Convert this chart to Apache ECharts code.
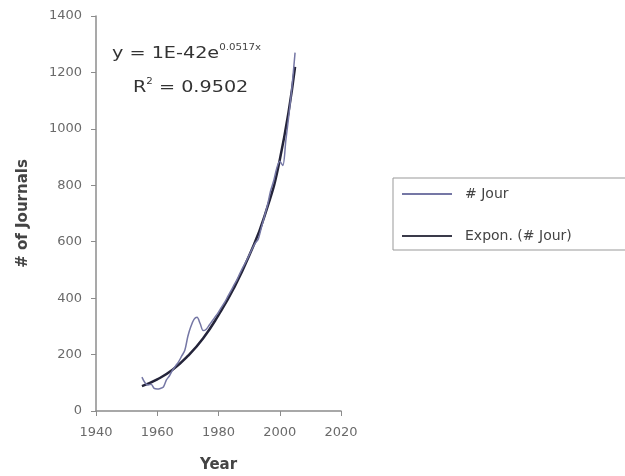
<!DOCTYPE html>
<html><head><meta charset="utf-8">
<script src="https://cdn.jsdelivr.net/npm/echarts@6/dist/echarts.min.js"></script>
<style>html,body{margin:0;padding:0;background:#fff}#c{width:625px;height:476px}</style>
</head><body><div id="c"></div>
<script>
const years = [1955,1956,1957,1958,1959,1960,1961,1962,1963,1964,1965,1966,1967,1968,1969,1970,1971,1972,1973,1974,1975,1976,1977,1978,1979,1980,1981,1982,1983,1984,1985,1986,1987,1988,1989,1990,1991,1992,1993,1994,1995,1996,1997,1998,1999,2000,2001,2002,2003,2004,2005];
const journals = [120,100,92,95,80,78,80,85,110,125,145,160,175,195,215,265,300,325,332,310,285,290,305,320,335,350,368,385,405,425,445,465,488,510,530,552,575,595,610,650,690,730,780,815,860,885,870,960,1050,1150,1270];
const trendYears = [1955,1960,1965,1970,1975,1980,1985,1990,1995,2000,2005];
const trendValues = [88,112,146,195,258,340,435,550,690,890,1220];
const seriesNames = ['# Jour','Expon. (# Jour)'];

const chart = echarts.init(document.getElementById('c'));
const FONT = 'DejaVu Sans, Arial';
const axisLabel = {color:'#6a6a6a', fontFamily:FONT, fontSize:13};
const nameStyle = {color:'#444', fontWeight:'bold', fontSize:15, fontFamily:FONT};
chart.setOption({
  animation:false,
  backgroundColor:'#fff',
  grid:{left:96, right:284, top:16, bottom:65, containLabel:false, outerBoundsMode:'none'},
  xAxis:{type:'value', min:1940, max:2020, interval:20,
    name:'Year', nameLocation:'middle', nameGap:47, nameTextStyle:nameStyle,
    axisLine:{lineStyle:{color:'#8c8c8c', width:1.5}},
    axisTick:{show:true, length:5, lineStyle:{color:'#8c8c8c'}},
    splitLine:{show:false},
    axisLabel:Object.assign({margin:15, formatter:v=>String(v)}, axisLabel)},
  yAxis:{type:'value', min:0, max:1400, interval:200,
    name:'# of Journals', nameLocation:'middle', nameGap:65, nameRotate:90, nameTextStyle:nameStyle,
    axisLine:{show:true, lineStyle:{color:'#8c8c8c', width:1.5}},
    axisTick:{show:true, length:5, lineStyle:{color:'#8c8c8c'}},
    splitLine:{show:false},
    axisLabel:Object.assign({margin:14, formatter:v=>String(v)}, axisLabel)},
  legend:{orient:'vertical', left:393, top:178, itemWidth:50, itemHeight:2, itemGap:28,
    padding:[9,70,7,9], borderColor:'#999', borderWidth:1,
    textStyle:{color:'#444', fontSize:14, fontFamily:FONT, padding:[0,0,0,8]},
    data:[{name:seriesNames[0], icon:'rect'},{name:seriesNames[1], icon:'rect'}]},
  series:[
    {name:seriesNames[0], type:'line', symbol:'none', smooth:0.3,
     data:years.map((y,i)=>[y, journals[i]]),
     lineStyle:{color:'#7577a5', width:1.5}, itemStyle:{color:'#7577a5'}, z:3},
    {name:seriesNames[1], type:'line', symbol:'none', smooth:true,
     data:trendYears.map((y,i)=>[y, trendValues[i]]),
     lineStyle:{color:'#24243a', width:2.5}, itemStyle:{color:'#3a3a4a'}, z:2}
  ],
  graphic:[
    {type:'text', x:112, y:44, scaleX:1.28, style:{
      rich:{b:{fontSize:15, fill:'#333', fontFamily:FONT}, s:{fontSize:8, fill:'#444', fontFamily:FONT, padding:[0,0,12,0]}},
      text:'{b|y = 1E-42e}{s|0.0517x}'}},
    {type:'text', x:133, y:78, scaleX:1.28, style:{
      rich:{b:{fontSize:15, fill:'#333', fontFamily:FONT}, s:{fontSize:8, fill:'#333', fontFamily:FONT, padding:[0,0,12,0]}},
      text:'{b|R}{s|2}{b| = 0.9502}'}}
  ]
});
</script></body></html>
